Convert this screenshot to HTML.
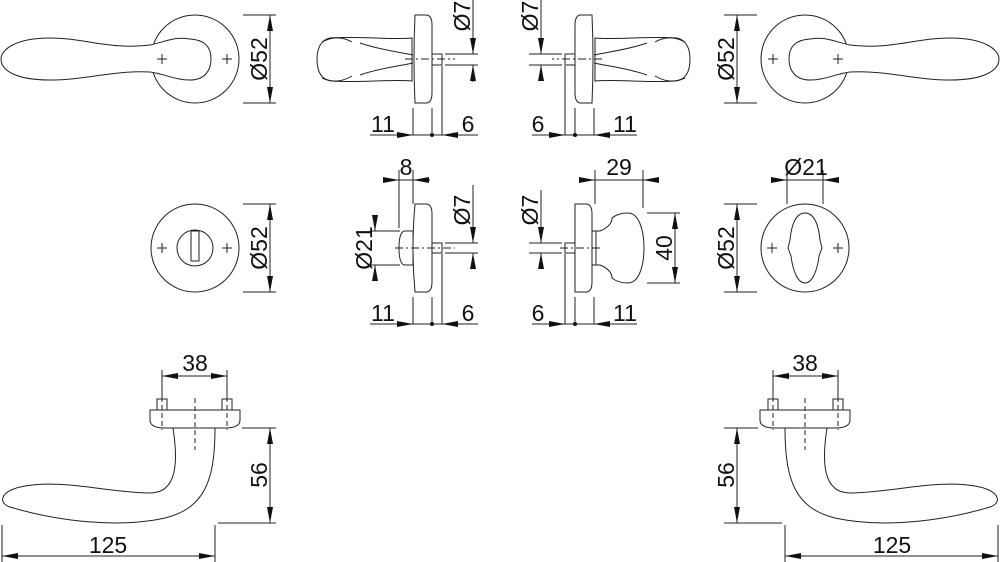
<!DOCTYPE html>
<html><head><meta charset="utf-8"><style>
html,body{margin:0;padding:0;background:#fff;}
svg{display:block;}
text{font-family:"Liberation Sans",sans-serif;font-size:23px;fill:#111;}
</style></head><body>
<svg width="1000" height="562" viewBox="0 0 1000 562" xmlns="http://www.w3.org/2000/svg">
<defs>
<marker id="a" viewBox="0 0 16 6" refX="16" refY="3" markerWidth="16" markerHeight="6" markerUnits="userSpaceOnUse" orient="auto-start-reverse"><path d="M0,0 L16,3 L0,6 Z" fill="#111"/></marker>

<g id="leverTop" fill="#fff" stroke="#222" stroke-width="1">
  <circle cx="195" cy="59" r="44"/>
  <path d="M190,39 C175,36 165,42 150,45 C110,50 85,38 50,38 C15,38 1,50 1,59 C1,70 15,80 50,80 C85,80 115,70 150,72 C165,74 175,80 190,80 C205,80 211,70 211,59 C211,46 204,40 190,39 Z"/>
  <path d="M157,59h10M162,54v10M222,59h10M227,54v10" fill="none"/>
</g>
<g id="sideTop" fill="#fff" stroke="#222" stroke-width="1">
  <path d="M412,38 C390,40 360,36 330,38 C320,40 317,50 317,59 C317,70 320,80 332,81 C360,83 390,79 412,81 Z"/>
  <path d="M322,42 C335,35 345,38 352,42 M322,78 C335,84 345,80 352,76 M360,43 C380,50 400,52 413,55 M360,75 C380,68 400,66 413,63" fill="none"/>
  <path d="M415,15 H426 Q432,15 432,25 V93 Q432,103 426,103 H415 Q413,59 415,15 Z"/>
  <rect x="432" y="54" width="10" height="11"/>
  <path d="M405,59 H455" fill="none" stroke-dasharray="8,3,2,3"/>
</g>
<g id="leverBot" fill="#fff" stroke="#222" stroke-width="1">
  <rect x="157" y="399" width="10" height="12"/>
  <rect x="222" y="399" width="10" height="12"/>
  <path d="M173,428 C178,460 178,493 150,493 C110,493 60,478 20,487 C0,492 -2,503 10,507 C60,522 120,528 165,518 C205,508 215,480 215,428 Z"/>
  <path d="M150,410 H240 V420 Q240,428 225,428 H165 Q150,428 150,420 Z"/>
  <path d="M162,397 V430 M227,397 V430 M195,398 V450" fill="none" stroke-dasharray="5,3"/>
</g>
</defs>

<g fill="none" stroke="#222" stroke-width="1">
<use href="#leverTop"/>
<path d="M243,15H276M243,103H276"/>
<line x1="270" y1="59" x2="270" y2="15" marker-end="url(#a)"/><line x1="270" y1="59" x2="270" y2="103" marker-end="url(#a)"/>
<use href="#leverTop" transform="translate(1000,0) scale(-1,1)"/>
<path d="M724,15H757M724,103H757"/>
<line x1="737" y1="59" x2="737" y2="15" marker-end="url(#a)"/><line x1="737" y1="59" x2="737" y2="103" marker-end="url(#a)"/>

<use href="#sideTop"/>
<path d="M445,54H478M445,65H478M473,0V39M473,80V82"/>
<line x1="473" y1="38" x2="473" y2="54" marker-end="url(#a)"/><line x1="473" y1="81" x2="473" y2="65" marker-end="url(#a)"/>
<path d="M413,108V135M432,108V135M442,66V135M370,135H478"/>
<line x1="397" y1="135" x2="413" y2="135" marker-end="url(#a)"/><line x1="458" y1="135" x2="442" y2="135" marker-end="url(#a)"/>
<use href="#sideTop" transform="translate(1007,0) scale(-1,1)"/>
<path d="M562,54H529M562,65H529M541,0V39"/>
<line x1="541" y1="38" x2="541" y2="54" marker-end="url(#a)"/><line x1="541" y1="81" x2="541" y2="65" marker-end="url(#a)"/>
<path d="M594,108V135M575,108V135M565,66V135M532,135H637"/>
<line x1="549" y1="135" x2="565" y2="135" marker-end="url(#a)"/><line x1="610" y1="135" x2="594" y2="135" marker-end="url(#a)"/>

<circle cx="195" cy="248" r="44" fill="#fff"/>
<circle cx="195" cy="248" r="18"/>
<rect x="191" y="231" width="8" height="30"/>
<path d="M157,248h10M162,243v10M222,248h10M227,243v10"/>
<path d="M243,204H276M243,292H276"/>
<line x1="270" y1="248" x2="270" y2="204" marker-end="url(#a)"/><line x1="270" y1="248" x2="270" y2="292" marker-end="url(#a)"/>
<path d="M415,204 H426 Q432,204 432,214 V282 Q432,292 426,292 H415 Q411,248 415,204 Z"/>
<path d="M413,231 H404 Q399,233 399,248 Q399,263 404,265 H413 Z"/>
<rect x="432" y="243" width="10" height="10"/>
<path d="M395,248 H455" stroke-dasharray="8,3,2,3"/>
<path d="M399,170V228M413,170V204M370,231H400M370,265H400"/>
<path d="M383,180H430"/>
<line x1="383" y1="180" x2="399" y2="180" marker-end="url(#a)"/><line x1="429" y1="180" x2="413" y2="180" marker-end="url(#a)"/>
<line x1="375" y1="215" x2="375" y2="231" marker-end="url(#a)"/><line x1="375" y1="281" x2="375" y2="265" marker-end="url(#a)"/>
<path d="M445,243H478M445,253H478M473,185V227"/>
<line x1="473" y1="227" x2="473" y2="243" marker-end="url(#a)"/><line x1="473" y1="269" x2="473" y2="253" marker-end="url(#a)"/>
<path d="M413,297V324M432,297V324M442,254V324M370,324H478"/>
<line x1="397" y1="324" x2="413" y2="324" marker-end="url(#a)"/><line x1="458" y1="324" x2="442" y2="324" marker-end="url(#a)"/>

<path d="M575,204 H586 Q592,204 592,214 V282 Q592,292 586,292 H575 Z"/>
<rect x="565" y="243" width="10" height="10"/>
<path d="M592,231 H600 Q612,226 612,218 Q618,213 628,213 C638,213 644,228 644,248 C644,268 638,283 628,283 Q618,283 612,278 Q612,270 600,265 H592 Z"/>
<path d="M596,231V265"/>
<path d="M560,248 H600" stroke-dasharray="8,3,2,3"/>
<path d="M595,170V204M643,170V208M647,213H680M647,283H680"/>
<line x1="579" y1="180" x2="595" y2="180" marker-end="url(#a)"/><line x1="659" y1="180" x2="643" y2="180" marker-end="url(#a)"/><path d="M595,180H643"/>
<path d="M675,213V283"/>
<line x1="675" y1="248" x2="675" y2="213" marker-end="url(#a)"/><line x1="675" y1="248" x2="675" y2="283" marker-end="url(#a)"/>
<path d="M562,243H529M562,253H529M541,190V227"/>
<line x1="541" y1="227" x2="541" y2="243" marker-end="url(#a)"/><line x1="541" y1="269" x2="541" y2="253" marker-end="url(#a)"/>
<path d="M565,254V324M575,297V324M594,297V324M532,324H637"/>
<line x1="549" y1="324" x2="565" y2="324" marker-end="url(#a)"/><line x1="610" y1="324" x2="594" y2="324" marker-end="url(#a)"/>

<circle cx="805" cy="248" r="44" fill="#fff"/>
<path d="M805,213 C794,213 791,230 790,240 L788,248 L791,256 C793,272 798,283 805,283 C812,283 817,272 819,256 L822,248 L820,240 C819,230 816,213 805,213 Z"/>
<path d="M767,248h10M772,243v10M833,248h10M838,243v10"/>
<path d="M787,170V204M823,170V204M787,180H823"/>
<line x1="771" y1="180" x2="787" y2="180" marker-end="url(#a)"/><line x1="839" y1="180" x2="823" y2="180" marker-end="url(#a)"/>
<path d="M724,204H757M724,292H757"/>
<line x1="737" y1="248" x2="737" y2="204" marker-end="url(#a)"/><line x1="737" y1="248" x2="737" y2="292" marker-end="url(#a)"/>

<use href="#leverBot"/>
<path d="M242,428H276M218,523H276"/>
<line x1="270" y1="475" x2="270" y2="428" marker-end="url(#a)"/><line x1="270" y1="475" x2="270" y2="523" marker-end="url(#a)"/>
<path d="M162,370V397M227,370V397"/>
<line x1="195" y1="376" x2="162" y2="376" marker-end="url(#a)"/><line x1="195" y1="376" x2="227" y2="376" marker-end="url(#a)"/>
<path d="M2,525V562M215,525V562"/>
<line x1="108" y1="556" x2="2" y2="556" marker-end="url(#a)"/><line x1="108" y1="556" x2="215" y2="556" marker-end="url(#a)"/>

<use href="#leverBot" transform="translate(1000,0) scale(-1,1)"/>
<path d="M758,428H724M782,523H724"/>
<line x1="737" y1="475" x2="737" y2="428" marker-end="url(#a)"/><line x1="737" y1="475" x2="737" y2="523" marker-end="url(#a)"/>
<path d="M773,370V397M838,370V397"/>
<line x1="805" y1="376" x2="773" y2="376" marker-end="url(#a)"/><line x1="805" y1="376" x2="838" y2="376" marker-end="url(#a)"/>
<path d="M785,525V562M998,525V562"/>
<line x1="892" y1="556" x2="785" y2="556" marker-end="url(#a)"/><line x1="892" y1="556" x2="998" y2="556" marker-end="url(#a)"/>
</g>

<g fill="#111">
<circle cx="432" cy="135" r="2"/><circle cx="575" cy="135" r="2"/>
<circle cx="432" cy="324" r="2"/><circle cx="575" cy="324" r="2"/>
</g>

<text transform="translate(267,59) rotate(-90)" text-anchor="middle">Ø52</text>
<text transform="translate(267,248) rotate(-90)" text-anchor="middle">Ø52</text>
<text transform="translate(734,59) rotate(-90)" text-anchor="middle">Ø52</text>
<text transform="translate(734,248) rotate(-90)" text-anchor="middle">Ø52</text>
<text transform="translate(470,16) rotate(-90)" text-anchor="middle">Ø7</text>
<text transform="translate(538,16) rotate(-90)" text-anchor="middle">Ø7</text>
<text transform="translate(470,210) rotate(-90)" text-anchor="middle">Ø7</text>
<text transform="translate(538,210) rotate(-90)" text-anchor="middle">Ø7</text>
<text transform="translate(372,248) rotate(-90)" text-anchor="middle">Ø21</text>
<text transform="translate(672,248) rotate(-90)" text-anchor="middle">40</text>
<text transform="translate(267,475) rotate(-90)" text-anchor="middle">56</text>
<text transform="translate(734,475) rotate(-90)" text-anchor="middle">56</text>
<text x="383" y="132" text-anchor="middle">11</text>
<text x="468" y="132" text-anchor="middle">6</text>
<text x="538" y="132" text-anchor="middle">6</text>
<text x="625" y="132" text-anchor="middle">11</text>
<text x="383" y="321" text-anchor="middle">11</text>
<text x="468" y="321" text-anchor="middle">6</text>
<text x="538" y="321" text-anchor="middle">6</text>
<text x="625" y="321" text-anchor="middle">11</text>
<text x="406" y="175" text-anchor="middle">8</text>
<text x="619" y="175" text-anchor="middle">29</text>
<text x="806" y="175" text-anchor="middle">Ø21</text>
<text x="195" y="371" text-anchor="middle">38</text>
<text x="805" y="371" text-anchor="middle">38</text>
<text x="108" y="553" text-anchor="middle">125</text>
<text x="892" y="553" text-anchor="middle">125</text>
</svg>
</body></html>
